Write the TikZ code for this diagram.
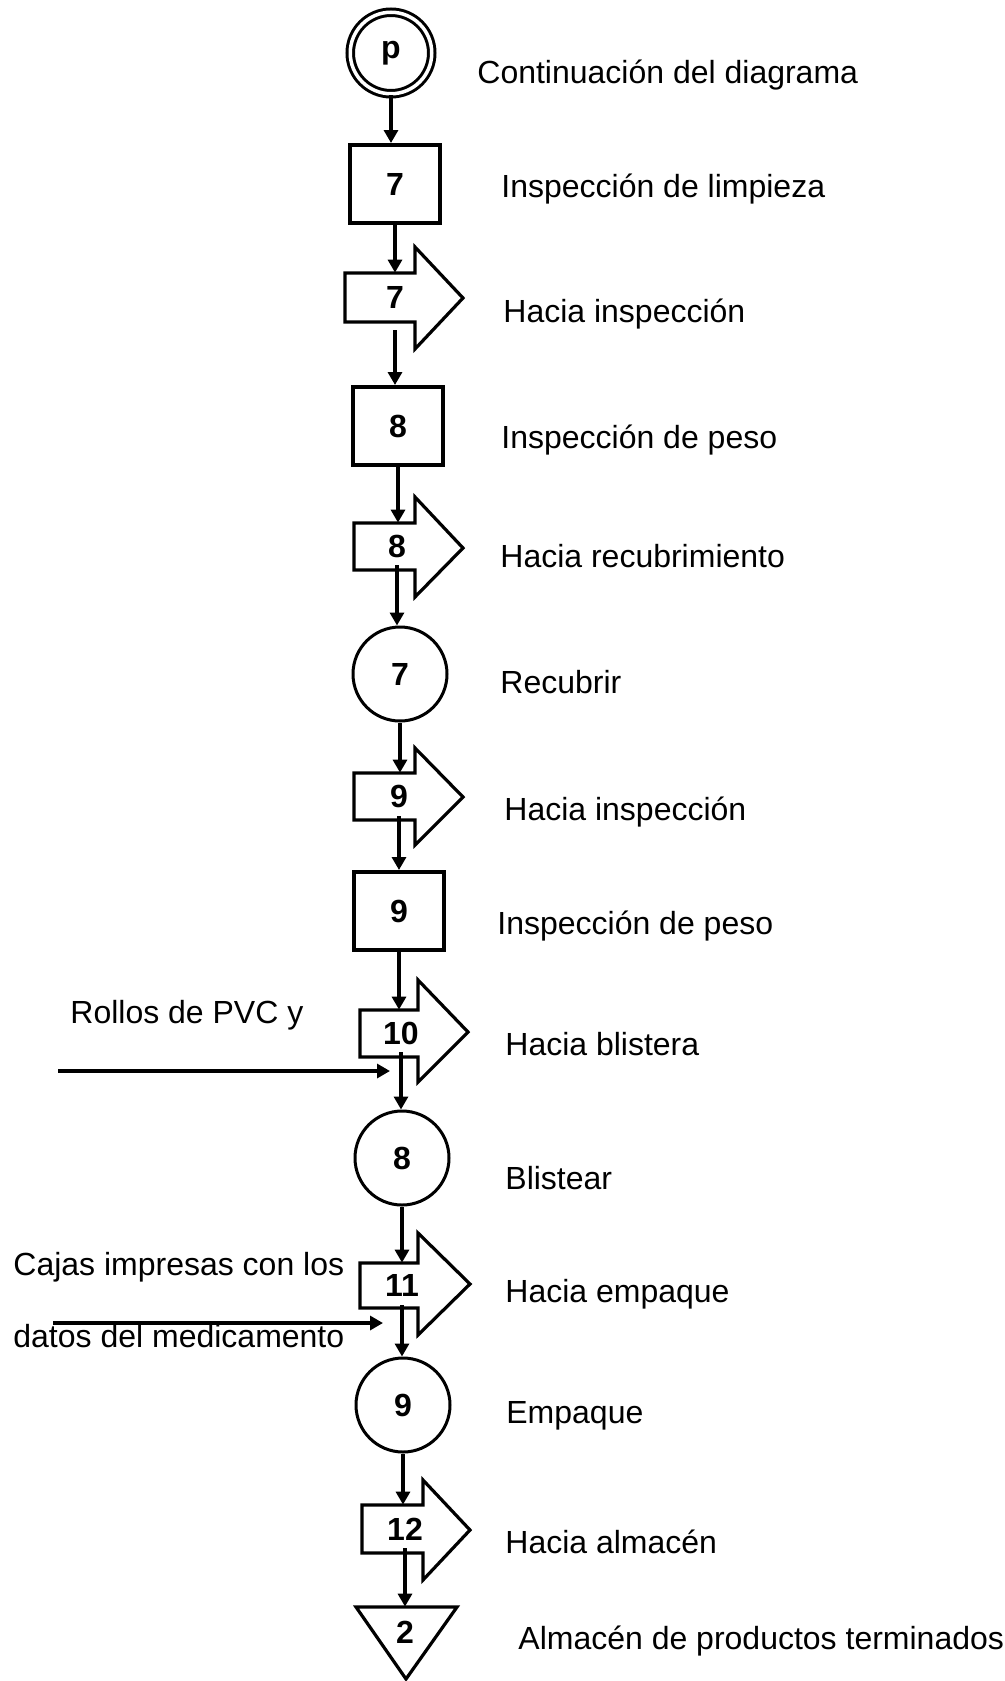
\documentclass[tikz,border=0pt]{standalone}
\usepackage{fontspec}
\setmainfont{Liberation Sans}
\usepackage{tikz}
\usetikzlibrary{arrows.meta}

\begin{document}
\begin{tikzpicture}[x=0.5pt, y=-0.5pt,
  every node/.style={font=\fontsize{16}{19}\selectfont},
  flecha/.style={-{Triangle[length=6.5pt,width=7pt]}, line width=1.6pt},
  forma/.style={line width=1.6pt, line join=miter},
  caja/.style={draw, line width=2pt, minimum width=45pt, minimum height=39pt, inner sep=0pt, font=\fontsize{16}{19}\selectfont\bfseries},
  oper/.style={circle, draw, line width=1.5pt, minimum size=47pt, inner sep=0pt, font=\fontsize{16}{19}\selectfont\bfseries},
  transp/.style={inner sep=0pt, minimum width=18pt, minimum height=23.5pt, font=\fontsize{16}{19}\selectfont\bfseries},
  etiqueta/.style={anchor=base west, inner sep=0pt}]
\useasboundingbox (0,0) rectangle (1005,1681);

\node[circle, draw, double, double distance=1.75pt, line width=1.5pt, minimum size=40.75pt, inner sep=0pt, font=\fontsize{16}{19}\selectfont\bfseries] (p) at (391,53) {p};
\node[caja] (c7) at (395,184) {7};
\draw[forma] (345,273) -- (415,273) -- (415,247) -- (463,298) -- (415,349) -- (415,322) -- (345,322) -- cycle;
\node[transp, minimum height=24.5pt] (t7) at (395,297.5) {7};
\node[caja] (c8) at (398,426) {8};
\draw[forma] (354,523) -- (415,523) -- (415,497) -- (463,548) -- (415,597) -- (415,570) -- (354,570) -- cycle;
\node[transp] (t8) at (397,546.5) {8};
\node[oper] (o7) at (400,674) {7};
\draw[forma] (354,773) -- (415,773) -- (415,748) -- (463,797) -- (415,845) -- (415,820) -- (354,820) -- cycle;
\node[transp] (t9) at (399,796.5) {9};
\node[caja] (c9) at (399,911) {9};
\draw[forma] (360,1010) -- (418,1010) -- (418,980) -- (468,1032) -- (418,1082) -- (418,1057) -- (360,1057) -- cycle;
\node[transp] (t10) at (401,1033.5) {10};
\node[oper] (o8) at (402,1158) {8};
\draw[forma] (360,1263) -- (418,1263) -- (418,1233) -- (470,1284) -- (418,1335) -- (418,1308) -- (360,1308) -- cycle;
\node[transp, minimum height=22.5pt] (t11) at (402,1285.5) {11};
\node[oper] (o9) at (403,1405) {9};
\draw[forma] (362,1505) -- (423,1505) -- (423,1480) -- (470,1530) -- (423,1580) -- (423,1553) -- (362,1553) -- cycle;
\node[transp, minimum height=24pt] (t12) at (405,1529) {12};
\draw[forma] (356,1607) -- (457,1607) -- (406,1679) -- cycle;
\node[transp, minimum height=25pt] (s2) at (405,1632) {2};

\draw[flecha] (p.south) -- (p.south |- c7.north);
\draw[flecha] (c7.south) -- (c7.south |- t7.north);
\draw[flecha] ([yshift=-4pt]t7.south) -- (t7.south |- c8.north);
\draw[flecha] (c8.south) -- (c8.south |- t8.north);
\draw[flecha] ([yshift=2.5pt]t8.south) -- (t8.south |- o7.north);
\draw[flecha] (o7.south) -- (o7.south |- t9.north);
\draw[flecha] ([yshift=2pt]t9.south) -- (t9.south |- c9.north);
\draw[flecha] (c9.south) -- (c9.south |- t10.north);
\draw[flecha] ([yshift=2.5pt]t10.south) -- (t10.south |- o8.north);
\draw[flecha] (o8.south) -- (o8.south |- t11.north);
\draw[flecha] ([yshift=1.5pt]t11.south) -- (t11.south |- o9.north);
\draw[flecha] (o9.south) -- (o9.south |- t12.north);
\draw[flecha] ([yshift=2.5pt]t12.south) -- (t12.south |- s2.north);

\coordinate (rollos) at (58,1071);
\draw[flecha] (rollos) -- ([xshift=-5.5pt]t10.south |- rollos);
\coordinate (cajas) at (53,1323);
\draw[flecha] (cajas) -- ([xshift=-9.5pt]t11.south |- cajas);

\node[etiqueta] (l1) at (477,83) {Continuación del diagrama};
\node[etiqueta] (l2) at (501,197) {Inspección de limpieza};
\node[etiqueta] (l3) at (503,322) {Hacia inspección};
\node[etiqueta] (l4) at (501,448) {Inspección de peso};
\node[etiqueta] (l5) at (500,567) {Hacia recubrimiento};
\node[etiqueta] (l6) at (500,693) {Recubrir};
\node[etiqueta] (l7) at (504,820) {Hacia inspección};
\node[etiqueta] (l8) at (497,934) {Inspección de peso};
\node[etiqueta] (l9) at (505,1055) {Hacia blistera};
\node[etiqueta] (l10) at (505,1189) {Blistear};
\node[etiqueta] (l11) at (505,1302) {Hacia empaque};
\node[etiqueta] (l12) at (506,1423) {Empaque};
\node[etiqueta] (l13) at (505,1553) {Hacia almacén};
\node[etiqueta] (l14) at (518,1649) {Almacén de productos terminados};
\node[etiqueta] (e1) at (70,1023) {Rollos de PVC y};
\node[etiqueta] (e2) at (13,1275) {Cajas impresas con los};
\node[etiqueta] (e3) at (13,1347) {datos del medicamento};
\end{tikzpicture}
\end{document}
